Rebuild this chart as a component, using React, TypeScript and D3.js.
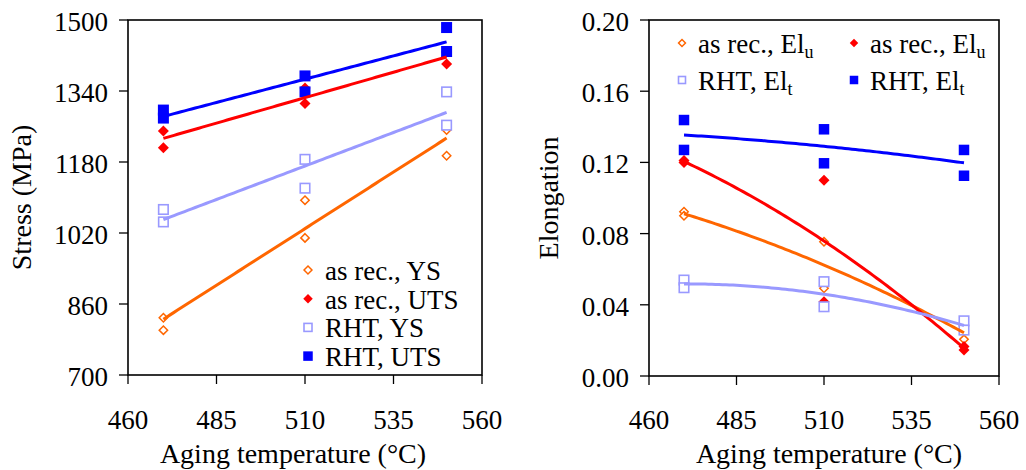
import React from "react";
import * as d3 from "d3";

// aging temperatures (two specimens each)
const TEMPS = [470, 470, 510, 510, 550, 550];
const X_TICKS = [460, 485, 510, 535, 560];
const STRESS_TICKS = [700, 860, 1020, 1180, 1340, 1500];
const ELONG_TICKS = [0, 0.04, 0.08, 0.12, 0.16, 0.2];

// stress (MPa)
const YS_ASREC = [829, 801, 1094, 1009, 1252, 1194];
const UTS_ASREC = [1250, 1212, 1347, 1312, 1401, 1428];
const YS_RHT = [1073, 1045, 1186, 1121, 1338, 1263];
const UTS_RHT = [1297, 1279, 1374, 1338, 1483, 1429];

// elongation
const ELU_ASREC = [0.0923, 0.09, 0.0754, 0.0493, 0.0206, 0.028];
const ELT_ASREC = [0.121, 0.12, 0.11, 0.0417, 0.0146, 0.0166];
const ELU_RHT = [0.0539, 0.0496, 0.053, 0.0389, 0.031, 0.0258];
const ELT_RHT = [0.1438, 0.127, 0.1386, 0.1195, 0.127, 0.1125];

const ORANGE = "#FF6600";
const RED = "#FF0000";
const LBLUE = "#9999FF";
const BLUE = "#0000FF";
const FONT = '"Liberation Serif", "DejaVu Serif", serif';

type Mk = "odiamond" | "fdiamond" | "osquare" | "fsquare";

// least squares polynomial (order 1 or 2)
function polyfit(xs: number[], ys: number[], order: number) {
  const n = order + 1;
  const A: number[][] = Array.from({ length: n }, () => Array(n + 1).fill(0));
  xs.forEach((x, k) => {
    for (let i = 0; i < n; i++) {
      for (let j = 0; j < n; j++) A[i][j] += Math.pow(x, i + j);
      A[i][n] += ys[k] * Math.pow(x, i);
    }
  });
  for (let i = 0; i < n; i++) {
    let p = i;
    for (let r = i + 1; r < n; r++) if (Math.abs(A[r][i]) > Math.abs(A[p][i])) p = r;
    [A[i], A[p]] = [A[p], A[i]];
    for (let r = 0; r < n; r++) {
      if (r === i) continue;
      const f = A[r][i] / A[i][i];
      for (let c = i; c <= n; c++) A[r][c] -= f * A[i][c];
    }
  }
  const coef = A.map((row, i) => row[n] / row[i]);
  return (x: number) => coef.reduce((s, c, i) => s + c * Math.pow(x, i), 0);
}

function Marker({ kind, x, y, s, color }: { kind: Mk; x: number; y: number; s: number; color: string }) {
  if (kind === "fsquare") return <rect x={x - s / 2} y={y - s / 2} width={s} height={s} fill={color} />;
  if (kind === "osquare")
    return <rect x={x - s / 2 + 0.75} y={y - s / 2 + 0.75} width={s - 1.5} height={s - 1.5} fill="#fff" stroke={color} strokeWidth={1.6} />;
  const r = s / 2;
  if (kind === "fdiamond") return <path d={`M${x},${y - r}L${x + r},${y}L${x},${y + r}L${x - r},${y}Z`} fill={color} />;
  return <path d={`M${x},${y - r + 0.8}L${x + r - 0.8},${y}L${x},${y + r - 0.8}L${x - r + 0.8},${y}Z`} fill="#fff" stroke={color} strokeWidth={1.5} />;
}

type Series = { ys: number[]; kind: Mk; color: string; size: number };

function Panel({
  left, right, top, bottom, yDomain, yTicks, fmt, series, order, yTitle, yTitleX, xTitleX, children
}: {
  left: number; right: number; top: number; bottom: number; yDomain: [number, number]; yTicks: number[];
  fmt: (v: number) => string; series: Series[]; order: number; yTitle: string; yTitleX: number; xTitleX: number;
  children?: React.ReactNode;
}) {
  const x = d3.scaleLinear().domain([460, 560]).range([left, right]);
  const y = d3.scaleLinear().domain(yDomain).range([bottom, top]);
  const line = d3.line<number>().x((t) => x(t));
  const samples = d3.range(470, 550.01, 1);
  return (
    <g style={{ fontFamily: FONT }} fill="#000">
      <rect x={left} y={top} width={right - left} height={bottom - top} fill="none" stroke="#000" strokeWidth={1.6} />
      {yTicks.map((t) => (
        <g key={"y" + t}>
          <line x1={left - 9} x2={left} y1={y(t)} y2={y(t)} stroke="#000" strokeWidth={1.3} />
          <text x={left - 20} y={y(t) + 11} fontSize={27} textAnchor="end">{fmt(t)}</text>
        </g>
      ))}
      {X_TICKS.map((t) => (
        <g key={"x" + t}>
          <line x1={x(t)} x2={x(t)} y1={bottom} y2={bottom + 9} stroke="#000" strokeWidth={1.3} />
          <text x={x(t)} y={429} fontSize={27} textAnchor="middle">{t}</text>
        </g>
      ))}
      <text x={xTitleX} y={463} fontSize={28} textAnchor="middle">Aging temperature (°C)</text>
      <text transform={`translate(${yTitleX},${(top + bottom) / 2}) rotate(-90)`} fontSize={28} textAnchor="middle">{yTitle}</text>
      {series.map((s, si) => (
        <g key={"m" + si}>
          {s.ys.map((v, i) => (
            <Marker key={i} kind={s.kind} x={x(TEMPS[i])} y={y(v)} s={s.size} color={s.color} />
          ))}
        </g>
      ))}
      {series.map((s, si) => {
        const f = polyfit(TEMPS, s.ys, order);
        const l = line.y((t) => y(f(t)));
        return <path key={"t" + si} d={l(samples) || ""} fill="none" stroke={s.color} strokeWidth={3} />;
      })}
      {children}
    </g>
  );
}

export default function App() {
  const fmtInt = (v: number) => String(v);
  const fmt2 = d3.format(".2f");
  const leftSeries: Series[] = [
    { ys: YS_ASREC, kind: "odiamond", color: ORANGE, size: 10 },
    { ys: UTS_ASREC, kind: "fdiamond", color: RED, size: 11 },
    { ys: YS_RHT, kind: "osquare", color: LBLUE, size: 11 },
    { ys: UTS_RHT, kind: "fsquare", color: BLUE, size: 11 }
  ];
  const rightSeries: Series[] = [
    { ys: ELU_ASREC, kind: "odiamond", color: ORANGE, size: 10 },
    { ys: ELT_ASREC, kind: "fdiamond", color: RED, size: 11 },
    { ys: ELU_RHT, kind: "osquare", color: LBLUE, size: 11 },
    { ys: ELT_RHT, kind: "fsquare", color: BLUE, size: 10.5 }
  ];
  const leftLegend = ["as rec., YS", "as rec., UTS", "RHT, YS", "RHT, UTS"];
  const rightLegend = [
    { col: 0, row: 0, sub: "u", label: "as rec., El" },
    { col: 1, row: 0, sub: "u", label: "as rec., El" },
    { col: 0, row: 1, sub: "t", label: "RHT, El" },
    { col: 1, row: 1, sub: "t", label: "RHT, El" }
  ];
  return (
    <svg width={1026} height={470} style={{ position: "absolute", left: 0, top: 0, background: "#fff", fontFamily: FONT }}>
      <rect width={1026} height={470} fill="#fff" />
      <Panel left={128} right={482} top={20} bottom={375} yDomain={[700, 1500]} yTicks={STRESS_TICKS} fmt={fmtInt}
        series={leftSeries} order={1} yTitle="Stress (MPa)" yTitleX={31} xTitleX={293}>
        {leftLegend.map((lab, i) => (
          <g key={lab}>
            <Marker kind={leftSeries[i].kind} x={308} y={270 + i * 28.7} s={9.5} color={leftSeries[i].color} />
            <text x={325} y={280 + i * 28.7} fontSize={27}>{lab}</text>
          </g>
        ))}
      </Panel>
      <Panel left={649} right={999} top={20} bottom={376} yDomain={[0, 0.2]} yTicks={ELONG_TICKS} fmt={fmt2}
        series={rightSeries} order={2} yTitle="Elongation" yTitleX={558} xTitleX={829}>
        {rightLegend.map((e, i) => {
          const mx = e.col === 0 ? 682 : 854;
          const my = e.row === 0 ? 43 : 80;
          return (
            <g key={i}>
              <Marker kind={rightSeries[i].kind} x={mx} y={my} s={8.5} color={rightSeries[i].color} />
              <text x={mx + 16} y={my + 10} fontSize={27}>
                {e.label}
                <tspan fontSize={18} dy={5}>{e.sub}</tspan>
              </text>
            </g>
          );
        })}
      </Panel>
    </svg>
  );
}
